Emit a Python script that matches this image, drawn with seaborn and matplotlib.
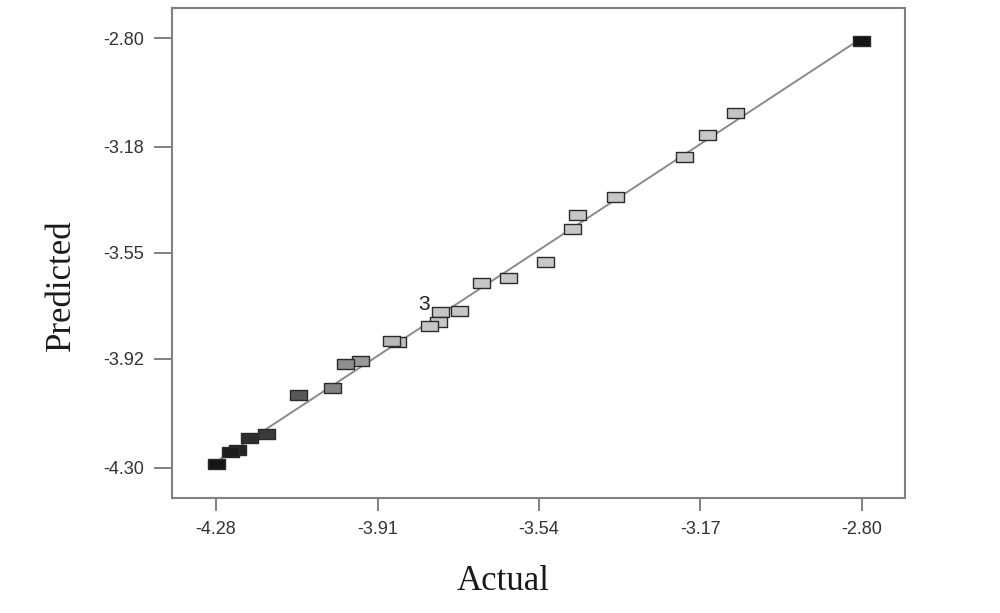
import numpy as np
import pandas as pd
import matplotlib
matplotlib.use("Agg")
import matplotlib.pyplot as plt
from matplotlib.colors import LinearSegmentedColormap, Normalize
from matplotlib.markers import MarkerStyle
import seaborn as sns

# ---- data ----
actual = [-2.80, -3.089, -3.153, -3.206, -3.364, -3.451, -3.463, -3.524,
          -3.609, -3.671, -3.722, -3.765, -3.771, -3.790, -3.865, -3.879,
          -3.950, -3.984, -4.014, -4.092, -4.165, -4.204, -4.230, -4.246, -4.28]
predicted = [-2.81, -3.062, -3.138, -3.215, -3.355, -3.417, -3.466, -3.581,
             -3.637, -3.655, -3.752, -3.756, -3.790, -3.805, -3.860, -3.857,
             -3.927, -3.937, -4.021, -4.045, -4.181, -4.195, -4.237, -4.244, -4.286]
x_ticks = [-4.28, -3.91, -3.54, -3.17, -2.80]
y_ticks = [-2.80, -3.18, -3.55, -3.92, -4.30]
x_tick_labels = ["-4.28", "-3.91", "-3.54", "-3.17", "-2.80"]
y_tick_labels = ["-2.80", "-3.18", "-3.55", "-3.92", "-4.30"]
overlap_label = "3"
overlap_pos = (-3.803, -3.731)

df = pd.DataFrame({"Actual": actual, "Predicted": predicted})

sns.set_theme(style="white")
plt.rcParams["font.family"] = ["Liberation Sans", "DejaVu Sans"]
plt.rcParams["axes.unicode_minus"] = False

fig = plt.figure(figsize=(10, 6.13), dpi=100)
ax = fig.add_axes([0.172, 0.188, 0.733, 0.799])

# grey-level colouring by actual value (dark at both ends, light in the middle)
lo, hi = -4.28, -2.80
def pos(v):
    return (v - lo) / (hi - lo)
cmap = LinearSegmentedColormap.from_list(
    "dxgray",
    [(0.0, "#141414"), (pos(-4.165), "#3c3c3c"), (pos(-4.09), "#5a5a5a"),
     (pos(-4.01), "#858585"), (pos(-3.95), "#9a9a9a"), (pos(-3.87), "#bdbdbd"),
     (pos(-3.80), "#c6c6c6"), (pos(-3.09), "#c8c8c8"), (pos(-2.95), "#555555"),
     (1.0, "#141414")])

# diagonal reference line
diag = pd.DataFrame({"Actual": [min(actual), max(actual)],
                     "Predicted": [min(actual), max(actual)]})
sns.lineplot(data=diag, x="Actual", y="Predicted", ax=ax, color="#8a8a8a",
             linewidth=1.4, zorder=1)

rect = MarkerStyle([(-1, -0.58), (1, -0.58), (1, 0.58), (-1, 0.58), (-1, -0.58)])
sns.scatterplot(data=df, x="Actual", y="Predicted", hue="Actual", palette=cmap,
                hue_norm=Normalize(lo, hi), marker=rect, s=150,
                edgecolor="#2a2a2a", linewidth=1.0, legend=False, ax=ax, zorder=3)

ax.text(overlap_pos[0], overlap_pos[1], overlap_label, fontsize=15,
        color="#222222", ha="center", va="center")

ax.set_xlim(-4.381, -2.701)
ax.set_ylim(-4.405, -2.695)
ax.set_xticks(x_ticks)
ax.set_xticklabels(x_tick_labels)
ax.set_yticks(y_ticks)
ax.set_yticklabels(y_tick_labels)
ax.tick_params(axis="x", direction="out", length=9, width=1.4, color="#808080",
               pad=8, labelsize=13, labelcolor="#333333", bottom=True)
ax.tick_params(axis="y", direction="out", length=13, width=1.4, color="#808080",
               pad=7, labelsize=13, labelcolor="#333333", left=True)
for sp in ax.spines.values():
    sp.set_color("#808080")
    sp.set_linewidth(1.5)
ax.grid(False)

ax.set_xlabel("Actual", fontsize=25, family=["Liberation Serif", "DejaVu Serif"],
              color="#1a1a1a")
ax.set_ylabel("Predicted", fontsize=25, family=["Liberation Serif", "DejaVu Serif"],
              color="#1a1a1a")
ax.xaxis.set_label_coords(0.452, -0.137)
ax.yaxis.set_label_coords(-0.128, 0.435)

fig.savefig("out.png", dpi=100, facecolor="white")
